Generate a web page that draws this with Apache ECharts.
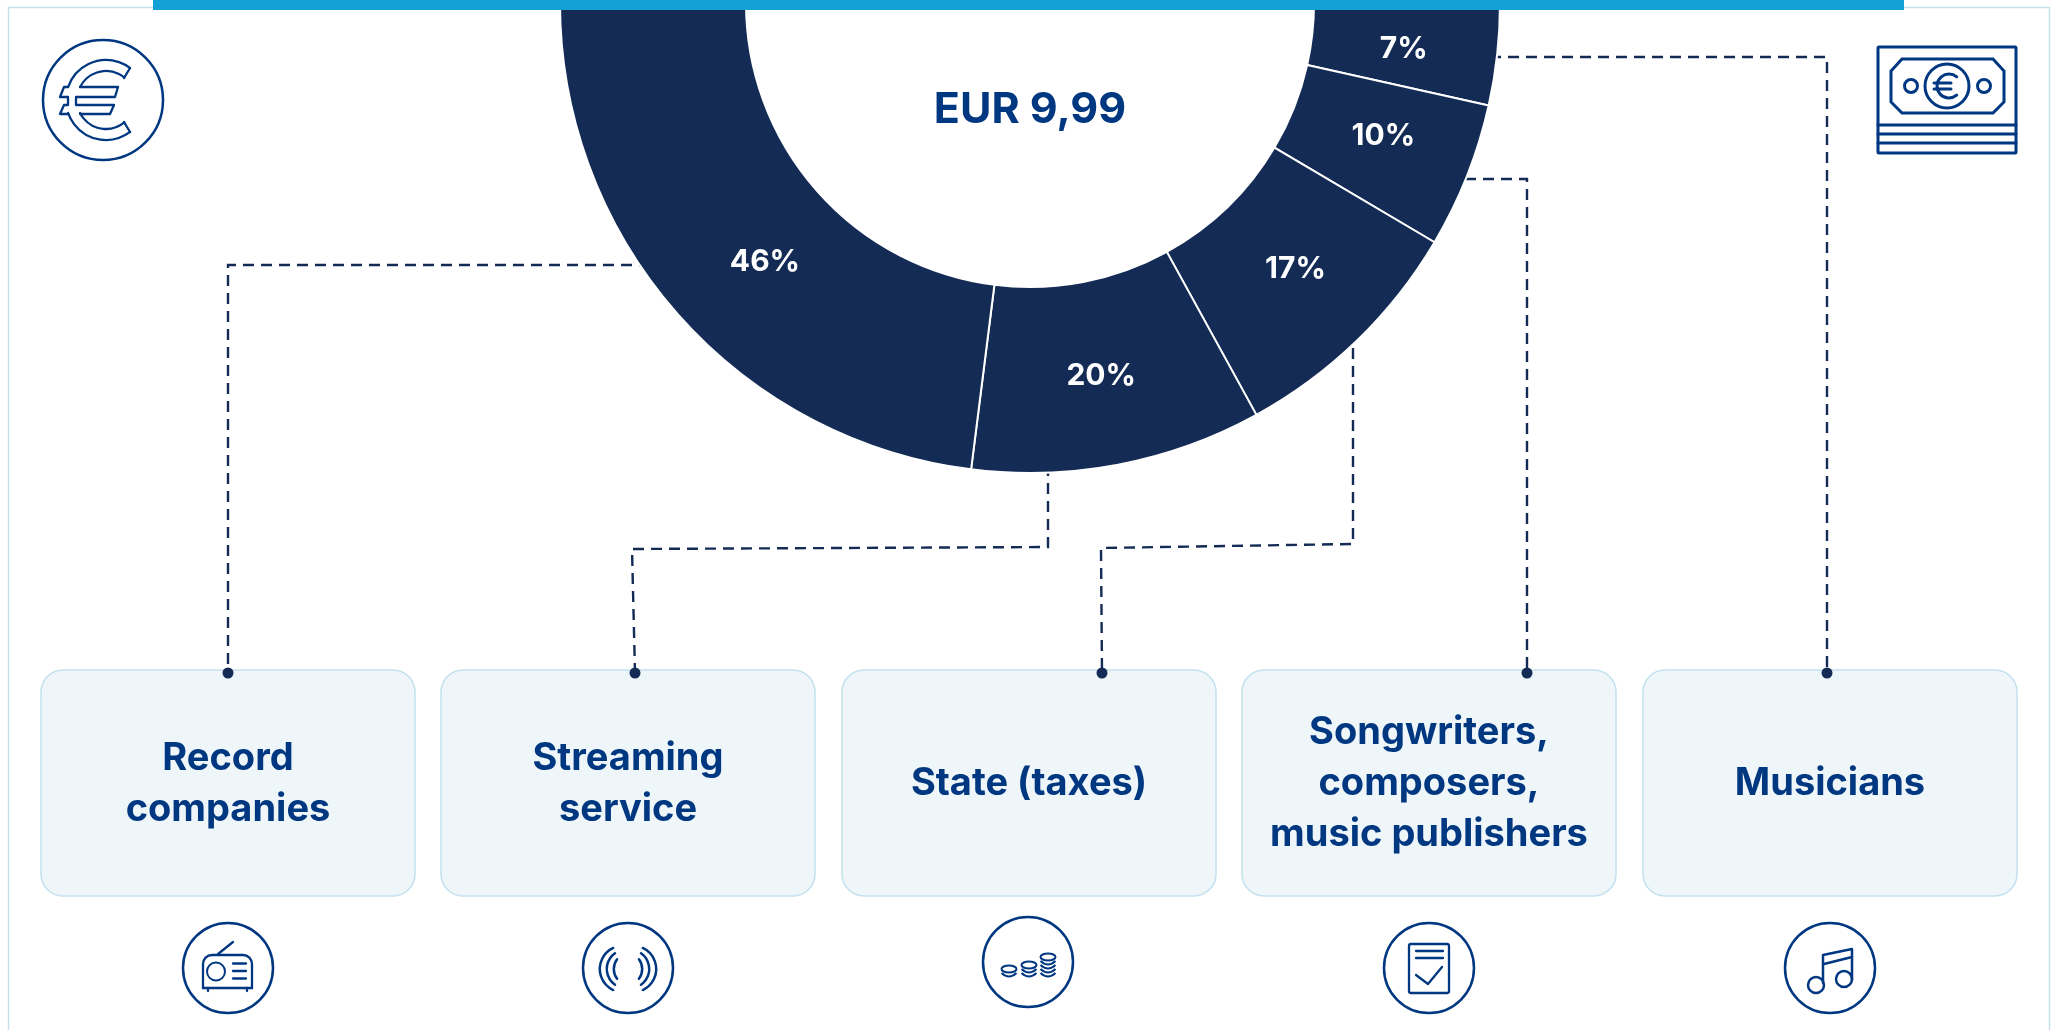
<!DOCTYPE html>
<html>
<head>
<meta charset="utf-8">
<title>EUR 9,99</title>
<script src="https://cdn.jsdelivr.net/npm/echarts@6/dist/echarts.min.js"></script>
<style>
    html, body { margin: 0; padding: 0; background: #fff; }
    #main { width: 2060px; height: 1030px; }
</style>
</head>
<body>
<div id="main"></div>
<script>
// slices run clockwise from the right hand end of the half ring
let shareNames = ['Musicians', 'Songwriters, composers, music publishers', 'State (taxes)', 'Streaming service', 'Record companies'];
let shareValues = [7, 10, 17, 20, 46];
let totalLabel = 'EUR 9,99';
let cardLabels = ['Record\ncompanies', 'Streaming\nservice', 'State (taxes)', 'Songwriters,\ncomposers,\nmusic publishers', 'Musicians'];

const BLUE = '#003781';
const NAVY = '#132b55';
const PALE = '#c3e1ed';
const FONT = 'Inter, "Noto Sans", sans-serif';

let myChart = echarts.init(document.getElementById('main'));
let rad = (d) => d * Math.PI / 180;

// small helpers for the graphic elements
function line(x1, y1, x2, y2, lw) {
    return { type: 'line', z: 6, shape: { x1, y1, x2, y2 }, style: { stroke: BLUE, lineWidth: lw || 2.3, lineCap: 'round' } };
}
function poly(points, lw) {
    return { type: 'polyline', z: 6, shape: { points }, style: { stroke: BLUE, fill: null, lineWidth: lw || 2.3, lineJoin: 'round', lineCap: 'round' } };
}
function circle(cx, cy, r, lw) {
    return { type: 'circle', z: 6, shape: { cx, cy, r }, style: { stroke: BLUE, fill: 'none', lineWidth: lw || 2.5 } };
}
function arc(cx, cy, r, from, to, lw) {
    return { type: 'arc', z: 6, shape: { cx, cy, r, startAngle: rad(from), endAngle: rad(to), clockwise: true }, style: { stroke: BLUE, fill: null, lineWidth: lw || 2.3, lineCap: 'round' } };
}
function box(x, y, width, height, r, lw) {
    return { type: 'rect', z: 6, shape: { x, y, width, height, r }, style: { stroke: BLUE, fill: 'none', lineWidth: lw || 2.3 } };
}
function connector(points) {
    return { type: 'polyline', z: 1, shape: { points }, style: { stroke: NAVY, fill: null, lineWidth: 2.4, lineDash: [11, 7] } };
}
function dot(cx, cy) {
    return { type: 'circle', z: 4, shape: { cx, cy, r: 5.5 }, style: { fill: NAVY } };
}
function coinStack(cx, topY, extra) {
    let parts = [{ type: 'ellipse', z: 6, shape: { cx, cy: topY, rx: 7.5, ry: 3.5 }, style: { stroke: BLUE, fill: 'none', lineWidth: 2 } }];
    for (let i = 1; i <= extra; i++) {
        let y = topY + i * 4;
        parts.push({
            type: 'bezierCurve', z: 6,
            shape: { x1: cx - 7.5, y1: y, x2: cx + 7.5, y2: y, cpx1: cx, cpy1: y + 7 },
            style: { stroke: BLUE, fill: null, lineWidth: 2 }
        });
    }
    return parts;
}

let cardX = [41, 441, 842, 1242, 1643];
let cards = [];
cardLabels.forEach((label, i) => {
    cards.push({
        type: 'rect', z: 0,
        shape: { x: cardX[i], y: 670, width: 374, height: 226, r: 22 },
        style: { fill: '#eef6f9', stroke: PALE, lineWidth: 1.5 }
    });
    cards.push({
        type: 'text', z: 5,
        style: {
            text: label, x: cardX[i] + 187, y: 784, fill: BLUE,
            font: 'bold 38px ' + FONT, textAlign: 'center', textVerticalAlign: 'middle', lineHeight: 51
        }
    });
});

let connectors = [
    connector([[650, 265], [228, 265], [228, 673]]),
    connector([[1048, 465], [1048, 547], [632, 549], [635, 673]]),
    connector([[1353, 330], [1353, 544], [1101, 548], [1102, 673]]),
    connector([[1465, 179], [1527, 179], [1527, 673]]),
    connector([[1490, 57], [1827, 57], [1827, 673]]),
    dot(228, 673), dot(635, 673), dot(1102, 673), dot(1527, 673), dot(1827, 673)
];

let euroIcon = [
    circle(103, 100, 60),
    arc(106, 100, 40, -161, -53), arc(106, 100, 40, 53, 161),
    arc(106, 100, 29, -153.4, -50.7), arc(106, 100, 29, 50.7, 153.4),
    line(130, 68, 124, 78), line(130, 132, 124, 122),
    poly([[80, 87], [118, 87], [115, 97], [76, 97], [76, 105], [114, 105], [110, 114], [80, 114]]),
    poly([[68, 87], [64, 87], [60, 97], [68, 97], [68, 105], [64, 105], [60, 114], [68, 114]])
];

let moneyIcon = [
    box(1878, 47, 138, 106, 1, 3),
    line(1878, 125, 2016, 125, 3), line(1878, 134, 2016, 134, 3), line(1878, 143, 2016, 143, 3),
    { type: 'polygon', z: 6, shape: { points: [[1902, 59], [1993, 59], [2004, 71], [2004, 102], [1993, 113], [1902, 113], [1891, 102], [1891, 71]] }, style: { stroke: BLUE, fill: 'none', lineWidth: 3 } },
    circle(1947, 86, 22, 3), circle(1911, 86, 6.5, 3), circle(1984, 86, 6.5, 3),
    arc(1949, 86, 12, 50, 310, 3),
    line(1934, 83, 1951, 83, 3), line(1934, 89, 1951, 89, 3)
];

let radioIcon = [
    circle(228, 968, 45),
    box(203, 955, 49, 33, [9, 9, 0, 0]),
    circle(216, 971.5, 9, 2),
    line(233, 963.5, 246, 963.5), line(233, 971, 246, 971), line(233, 978.5, 246, 978.5),
    line(218, 954, 233, 942),
    line(208, 988, 208, 991), line(247, 988, 247, 991)
];

let waveIcon = [
    circle(628, 968, 45),
    arc(623, 969, 23.2, 115, 245, 2.5), arc(626, 969, 19.2, 125, 235, 2.5), arc(630, 969, 16.2, 143, 217, 2.5),
    arc(633, 969, 23.2, -65, 65, 2.5), arc(630, 969, 19.2, -55, 55, 2.5), arc(626, 969, 16.2, -37, 37, 2.5)
];

let coinIcon = [circle(1028, 962, 45)]
    .concat(coinStack(1009, 969, 1))
    .concat(coinStack(1029, 965, 2))
    .concat(coinStack(1048, 957, 4));

let docIcon = [
    circle(1429, 968, 45),
    box(1409, 944, 40, 49, 2),
    line(1416, 951, 1443, 951), line(1416, 958, 1443, 958),
    poly([[1416, 975], [1428, 984], [1442, 967]])
];

let noteIcon = [
    circle(1830, 968, 45),
    circle(1816, 985, 8, 2.5), circle(1844, 979, 8, 2.5),
    poly([[1823, 983], [1823, 955], [1852, 949], [1852, 980]], 2.5),
    line(1824, 964, 1852, 957, 2.5)
];

let frame = [
    { type: 'polyline', z: 0, shape: { points: [[8.5, 1030], [8.5, 7.5], [2049.5, 7.5], [2049.5, 1030]] }, style: { stroke: PALE, fill: null, lineWidth: 1.5 } },
    { type: 'rect', z: 10, shape: { x: 153, y: 0, width: 1751, height: 10 }, style: { fill: '#14a2d6' } },
    {
        type: 'text', z: 5,
        style: { text: totalLabel, x: 1030, y: 110, fill: BLUE, font: 'bold 43px ' + FONT, textAlign: 'center', textVerticalAlign: 'middle' }
    }
];

// small nudges so the percent labels sit where the reference puts them
let labelOffsets = [[-4, 4], [0, -7], [1, -7], [0, 0], [20, 8]];

let option = {
    animation: false,
    backgroundColor: '#ffffff',
    graphic: {
        elements: [].concat(frame, cards, connectors, euroIcon, moneyIcon, radioIcon, waveIcon, coinIcon, docIcon, noteIcon)
    },
    series: [
        {
            type: 'pie',
            z: 2,
            center: [1030, 3],
            radius: [284, 470],
            startAngle: 0,
            endAngle: -180,
            clockwise: true,
            silent: true,
            labelLine: { show: false },
            itemStyle: { color: NAVY, borderColor: '#ffffff', borderWidth: 2 },
            label: {
                show: true,
                position: 'inside',
                formatter: '{c}%',
                color: '#ffffff',
                fontFamily: FONT,
                fontWeight: 'bold',
                fontSize: 30
            },
            data: shareValues.map((v, i) => ({ name: shareNames[i], value: v, label: { offset: labelOffsets[i] } }))
        }
    ]
};
myChart.setOption(option);
</script>
</body>
</html>
